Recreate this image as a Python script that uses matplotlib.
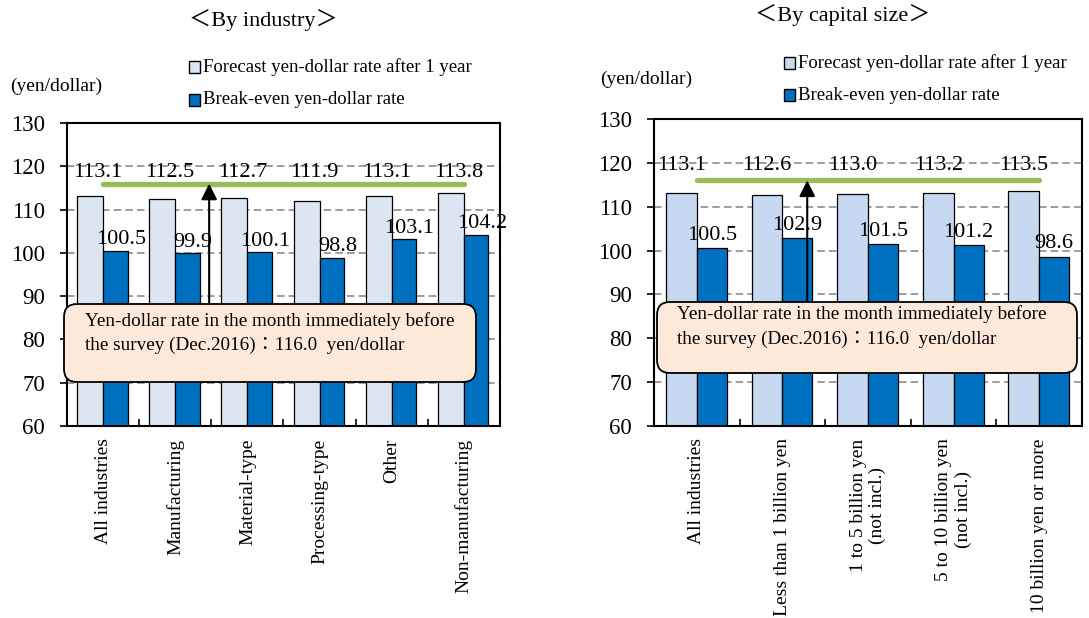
import matplotlib
matplotlib.use("Agg")
import matplotlib.pyplot as plt
from matplotlib.patches import FancyBboxPatch, Rectangle
import numpy as np

plt.rcParams["font.family"] = ["Liberation Serif", "Noto Sans CJK JP"]

W, H = 1089, 618

# ---- data ----
industry_labels = ["All industries", "Manufacturing", "Material-type",
                   "Processing-type", "Other", "Non-manufacturing"]
industry_forecast = [113.1, 112.5, 112.7, 111.9, 113.1, 113.8]
industry_breakeven = [100.5, 99.9, 100.1, 98.8, 103.1, 104.2]

size_labels = ["All industries", "Less than 1 billion yen",
               "1 to 5 billion yen\n(not incl.)",
               "5 to 10 billion yen\n(not incl.)",
               "10 billion yen or more"]
size_forecast = [113.1, 112.6, 113.0, 113.2, 113.5]
size_breakeven = [100.5, 102.9, 101.5, 101.2, 98.6]

rate_dec2016 = 116.0
y_ticks = [60, 70, 80, 90, 100, 110, 120, 130]

series_names = ["Forecast yen-dollar rate after 1 year",
                "Break-even yen-dollar rate"]

DARK = "#0070C0"
GREEN = "#9BBB59"
BOX = "#FDE9D9"

fig = plt.figure(figsize=(W / 100, H / 100), dpi=100)


def fx(px):
    return px / W


def fy(py):
    return 1 - py / H


def panel(ax_px, cats, forecast, breakeven, light, light_w, dark_w,
          light_lab_y, dark_off, lab_dx, arrow_x, title, title_xy, unit_xy,
          legend_px, box_px, text_px):
    left, top, right, bottom = ax_px
    ax = fig.add_axes([fx(left), fy(bottom), fx(right) - fx(left),
                       fy(top) - fy(bottom)])
    n = len(cats)
    x = np.arange(n)

    ax.bar(x - light_w, forecast, width=light_w, align="edge",
           color=light, edgecolor="black", linewidth=0.9, zorder=2)
    ax.bar(x, breakeven, width=dark_w, align="edge",
           color=DARK, edgecolor="black", linewidth=0.9, zorder=2)

    ax.set_xlim(-0.5, n - 0.5)
    ax.set_ylim(60, 130)
    ax.set_yticks(y_ticks)
    ax.yaxis.grid(True, color="#8C8C8C", linewidth=1.2,
                  linestyle=(0, (4.5, 2.5)))
    ax.set_axisbelow(True)
    ax.tick_params(axis="y", direction="out", length=5, width=1.2,
                   pad=11, labelsize=16.5)
    ax.set_xticks(x)
    ax.set_xticklabels(cats, rotation=90, fontsize=14,
                       multialignment="center")
    ax.tick_params(axis="x", which="major", length=0, pad=9)
    ax.set_xticks(x[:-1] + 0.5, minor=True)
    ax.tick_params(axis="x", which="minor", direction="in", length=5,
                   width=1.2)
    for s in ax.spines.values():
        s.set_linewidth(1.5)

    # rate of the month before the survey
    ax.plot([x[0], x[-1]], [rate_dec2016, rate_dec2016], color=GREEN,
            linewidth=3.8, solid_capstyle="round", zorder=4)

    for i in range(n):
        ax.text(x[i] - light_w / 2 + lab_dx, light_lab_y,
                f"{forecast[i]:.1f}", ha="center", va="center",
                fontsize=16, zorder=5)
        ax.text(x[i] + dark_w / 2 + lab_dx * 0.7, breakeven[i] + dark_off,
                f"{breakeven[i]:.1f}", ha="center", va="center",
                fontsize=16, zorder=5)

    ax.annotate("", xy=(arrow_x, rate_dec2016),
                xytext=(arrow_x, H - box_px[1]),
                xycoords="data", textcoords=("data", "figure pixels"),
                arrowprops=dict(arrowstyle="-|>", color="black", lw=1.5,
                                mutation_scale=24, shrinkA=0, shrinkB=0),
                zorder=6)

    fig.text(fx(title_xy[0]), fy(title_xy[1]), title, ha="center",
             va="center", fontsize=16)
    fig.text(fx(unit_xy[0]), fy(unit_xy[1]), "(yen/dollar)", ha="left",
             va="center", fontsize=14)

    # legend
    lx, ly1, ly2 = legend_px
    for yy, col, name in [(ly1, light, series_names[0]),
                          (ly2, DARK, series_names[1])]:
        fig.add_artist(Rectangle(((lx) / 100, (H - yy - 5.5) / 100),
                                 0.11, 0.11, transform=fig.dpi_scale_trans,
                                 facecolor=col, edgecolor="black",
                                 linewidth=1.0))
        fig.text(fx(lx + 14), fy(yy), name, ha="left", va="center",
                 fontsize=13.5)

    # note box
    bx0, by0, bx1, by1 = box_px
    fig.add_artist(FancyBboxPatch((bx0 / 100, (H - by1) / 100),
                                  (bx1 - bx0) / 100, (by1 - by0) / 100,
                                  boxstyle="round,pad=0,rounding_size=0.13",
                                  transform=fig.dpi_scale_trans,
                                  facecolor=BOX, edgecolor="black",
                                  linewidth=1.3, zorder=5))
    tx, ty1, ty2 = text_px
    fig.text(fx(tx), fy(ty1),
             "Yen-dollar rate in the month immediately before",
             ha="left", va="center", fontsize=13.8, zorder=6)
    fig.text(fx(tx), fy(ty2),
             f"the survey (Dec.2016)：{rate_dec2016:.1f}  yen/dollar",
             ha="left", va="center", fontsize=13.8, zorder=6)
    return ax


panel((67, 123, 500, 426), industry_labels, industry_forecast,
      industry_breakeven, "#DCE6F2", 0.36, 0.34, 118.5, 2.6, 0.11, 1.47,
      "＜By industry＞", (263, 20), (10, 86), (189, 67, 100),
      (64, 304, 476, 382), (85, 321, 345))

panel((654, 119, 1082, 426), size_labels, size_forecast,
      size_breakeven, "#C6D9F0", 0.36, 0.35, 119.3, 2.9, 0.0, 1.29,
      "＜By capital size＞", (843, 15), (600, 79), (784, 63, 95),
      (657, 302, 1077, 373), (677, 314, 339))

fig.savefig("out.png", dpi=100)
